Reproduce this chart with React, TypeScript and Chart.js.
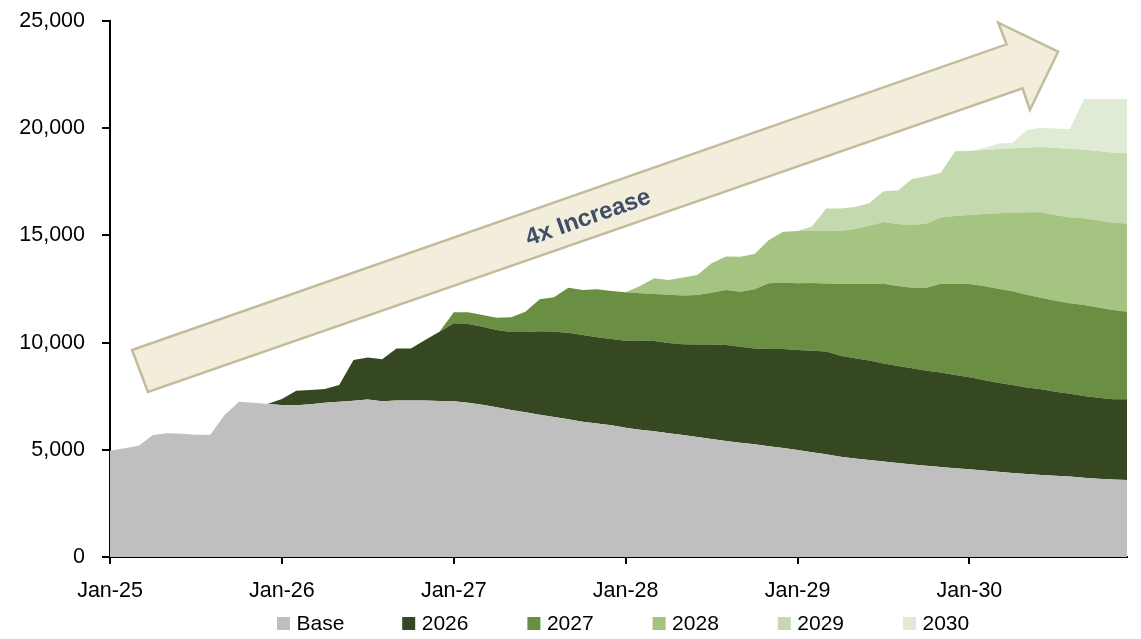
import { useEffect, useRef } from 'react';
import { Chart, registerables } from 'chart.js';

Chart.register(...registerables);

const FONT = '"Liberation Sans", Arial, Helvetica, sans-serif';

// Monthly categories, Jan-25 .. Dec-30
const YEARS = ['25', '26', '27', '28', '29', '30'];
const MONTHS = ['Jan', 'Feb', 'Mar', 'Apr', 'May', 'Jun', 'Jul', 'Aug', 'Sep', 'Oct', 'Nov', 'Dec'];
const MONTH_LABELS = YEARS.flatMap((yy) => MONTHS.map((m) => `${m}-${yy}`));

const SERIES_NAMES = ['Base', '2026', '2027', '2028', '2029', '2030'];
const SERIES_COLORS = ['#BFBFBF', '#364821', '#6A8F43', '#A5C482', '#C4D9AE', '#E0EBD5'];

// One row per calendar year (Jan..Dec)
const BASE = [
  4960, 5070, 5190, 5690, 5770, 5750, 5700, 5700, 6620, 7240, 7200, 7140,
  7090, 7080, 7120, 7200, 7240, 7290, 7350, 7260, 7300, 7300, 7300, 7280,
  7260, 7200, 7100, 6980, 6860, 6750, 6640, 6530, 6420, 6310, 6230, 6140,
  6030, 5940, 5860, 5770, 5690, 5600, 5500, 5410, 5330, 5260, 5160, 5080,
  4990, 4890, 4790, 4680, 4600, 4520, 4450, 4380, 4320, 4260, 4200, 4140,
  4090, 4030, 3980, 3920, 3870, 3820, 3790, 3750, 3700, 3650, 3610, 3590,
];

const COHORT_2026 = [
  0, 0, 0, 0, 0, 0, 0, 0, 0, 0, 0, 0,
  280, 680, 670, 640, 780, 1900, 1950, 1960, 2430, 2420, 2820, 3230,
  3640, 3670, 3640, 3610, 3630, 3740, 3890, 3980, 4040, 4040, 4020, 4030,
  4060, 4160, 4210, 4210, 4230, 4310, 4410, 4480, 4480, 4470, 4540, 4620,
  4660, 4730, 4790, 4710, 4670, 4640, 4580, 4530, 4480, 4430, 4400, 4350,
  4290, 4230, 4150, 4100, 4040, 4000, 3920, 3870, 3810, 3780, 3750, 3770,
];

const COHORT_2027 = [
  0, 0, 0, 0, 0, 0, 0, 0, 0, 0, 0, 0,
  0, 0, 0, 0, 0, 0, 0, 0, 0, 0, 0, 0,
  510, 540, 550, 570, 690, 950, 1490, 1600, 2100, 2100, 2240, 2240,
  2260, 2200, 2200, 2250, 2280, 2310, 2420, 2560, 2560, 2760, 3070, 3100,
  3120, 3160, 3180, 3340, 3460, 3590, 3720, 3730, 3760, 3870, 4150, 4260,
  4350, 4380, 4380, 4370, 4320, 4270, 4240, 4210, 4240, 4210, 4160, 4080,
];

const COHORT_2028 = [
  0, 0, 0, 0, 0, 0, 0, 0, 0, 0, 0, 0,
  0, 0, 0, 0, 0, 0, 0, 0, 0, 0, 0, 0,
  0, 0, 0, 0, 0, 0, 0, 0, 0, 0, 0, 0,
  0, 340, 730, 690, 840, 930, 1370, 1570, 1640, 1640, 2020, 2370,
  2430, 2430, 2450, 2490, 2570, 2700, 2870, 2890, 2930, 3000, 3080, 3150,
  3220, 3360, 3520, 3670, 3850, 3990, 4000, 4010, 4050, 4050, 4070, 4120,
];

const COHORT_2029 = [
  0, 0, 0, 0, 0, 0, 0, 0, 0, 0, 0, 0,
  0, 0, 0, 0, 0, 0, 0, 0, 0, 0, 0, 0,
  0, 0, 0, 0, 0, 0, 0, 0, 0, 0, 0, 0,
  0, 0, 0, 0, 0, 0, 0, 0, 0, 0, 0, 0,
  0, 200, 1050, 1030, 1020, 1050, 1440, 1560, 2140, 2200, 2090, 3020,
  2990, 2980, 3000, 3000, 3010, 3040, 3140, 3190, 3200, 3250, 3270, 3270,
];

const COHORT_2030 = [
  0, 0, 0, 0, 0, 0, 0, 0, 0, 0, 0, 0,
  0, 0, 0, 0, 0, 0, 0, 0, 0, 0, 0, 0,
  0, 0, 0, 0, 0, 0, 0, 0, 0, 0, 0, 0,
  0, 0, 0, 0, 0, 0, 0, 0, 0, 0, 0, 0,
  0, 0, 0, 0, 0, 0, 0, 0, 0, 0, 0, 0,
  0, 80, 260, 260, 830, 900, 900, 930, 2360, 2410, 2490, 2520,
];

const SERIES_VALUES = [BASE, COHORT_2026, COHORT_2027, COHORT_2028, COHORT_2029, COHORT_2030];

const Y_MAX = 25000;
const Y_STEP = 5000;

// Block arrow outline in axis units: [month index, value]
const ARROW_OUTLINE: [number, number][] = [
  [1.54, 9655],
  [62.59, 23913],
  [62.01, 24921],
  [66.19, 23568],
  [64.22, 20849],
  [63.71, 21861],
  [2.65, 7696],
];
const ARROW_LABEL = '4x Increase';
const ARROW_LABEL_AT: [number, number] = [33.39, 15812];
const ARROW_FILL = '#F3EEDB';
const ARROW_EDGE = '#C2BC9C';
const ARROW_TEXT = '#3F4E69';

const arrowPlugin = {
  id: 'growthArrow',
  afterDatasetsDraw(chart: any) {
    const { ctx } = chart;
    const xs = chart.scales.x;
    const ys = chart.scales.y;
    const pts = ARROW_OUTLINE.map(([i, v]) => [xs.getPixelForValue(i), ys.getPixelForValue(v)]);
    ctx.save();
    ctx.beginPath();
    pts.forEach(([px, py], k) => (k ? ctx.lineTo(px, py) : ctx.moveTo(px, py)));
    ctx.closePath();
    ctx.fillStyle = ARROW_FILL;
    ctx.fill();
    ctx.lineWidth = 2.5;
    ctx.lineJoin = 'miter';
    ctx.strokeStyle = ARROW_EDGE;
    ctx.stroke();

    const angle = Math.atan2(pts[1][1] - pts[0][1], pts[1][0] - pts[0][0]);
    ctx.translate(xs.getPixelForValue(ARROW_LABEL_AT[0]), ys.getPixelForValue(ARROW_LABEL_AT[1]));
    ctx.rotate(angle);
    ctx.font = `bold 24px ${FONT}`;
    ctx.fillStyle = ARROW_TEXT;
    ctx.textAlign = 'center';
    ctx.textBaseline = 'middle';
    ctx.fillText(ARROW_LABEL, 0, 0);
    ctx.restore();
  },
};

// Evenly spaced legend row beneath the axis
const legendPlugin = {
  id: 'bottomLegend',
  afterDraw(chart: any) {
    const { ctx } = chart;
    const startX = 277;
    const step = 125.2;
    const box = 13;
    const midY = 623.5;
    ctx.save();
    ctx.font = `21px ${FONT}`;
    ctx.textBaseline = 'middle';
    ctx.textAlign = 'left';
    chart.data.datasets.forEach((ds: any, k: number) => {
      const x0 = startX + k * step;
      ctx.fillStyle = ds.backgroundColor;
      ctx.fillRect(x0, midY - box / 2, box, box);
      ctx.fillStyle = '#000';
      ctx.fillText(ds.label, x0 + 19.5, midY + 1);
    });
    ctx.restore();
  },
};

export default function App() {
  const canvasRef = useRef<HTMLCanvasElement | null>(null);

  useEffect(() => {
    const canvas = canvasRef.current;
    if (!canvas) return;

    const datasets = SERIES_NAMES.map((name, k) => ({
      label: name,
      data: SERIES_VALUES[k],
      backgroundColor: SERIES_COLORS[k],
      borderColor: SERIES_COLORS[k],
      borderWidth: 0,
      pointRadius: 0,
      pointHoverRadius: 0,
      tension: 0,
      fill: k === 0 ? 'origin' : '-1',
    }));

    const chart = new Chart(canvas, {
      type: 'line',
      data: { labels: MONTH_LABELS, datasets },
      options: {
        animation: false,
        responsive: false,
        devicePixelRatio: 1,
        events: [],
        layout: { padding: { left: 0, right: 14, top: 21, bottom: 0 } },
        plugins: {
          legend: { display: false },
          tooltip: { enabled: false },
        },
        scales: {
          x: {
            type: 'category',
            offset: false,
            border: { display: true, color: '#000', width: 2 },
            grid: {
              display: true,
              drawOnChartArea: false,
              drawTicks: true,
              tickLength: 7,
              lineWidth: 2,
              color: (c: any) => (c.index % 12 === 0 ? '#000' : 'rgba(0,0,0,0)'),
            },
            ticks: {
              autoSkip: false,
              maxRotation: 0,
              minRotation: 0,
              padding: 14,
              color: '#000',
              font: { family: FONT, size: 21.5 },
              callback: (_v: any, i: number) => (i % 12 === 0 ? MONTH_LABELS[i] : ''),
            },
            afterFit: (s: any) => {
              s.height = 82;
            },
          },
          y: {
            stacked: true,
            min: 0,
            max: Y_MAX,
            border: { display: true, color: '#000', width: 2 },
            grid: {
              display: true,
              drawOnChartArea: false,
              drawTicks: true,
              tickLength: 8,
              lineWidth: 2,
              color: '#000',
            },
            ticks: {
              stepSize: Y_STEP,
              padding: 17,
              color: '#000',
              font: { family: FONT, size: 21.5 },
              callback: (v: any) => Number(v).toLocaleString('en-US'),
            },
            afterFit: (s: any) => {
              s.width = 110;
              s.paddingTop = 0;
              s.paddingBottom = 0;
            },
          },
        },
      },
      plugins: [arrowPlugin, legendPlugin],
    });

    return () => chart.destroy();
  }, []);

  return (
    <div style={{ position: 'absolute', left: 0, top: 0, width: 1141, height: 639, background: '#fff' }}>
      <canvas ref={canvasRef} width={1141} height={639} style={{ display: 'block' }} />
    </div>
  );
}
